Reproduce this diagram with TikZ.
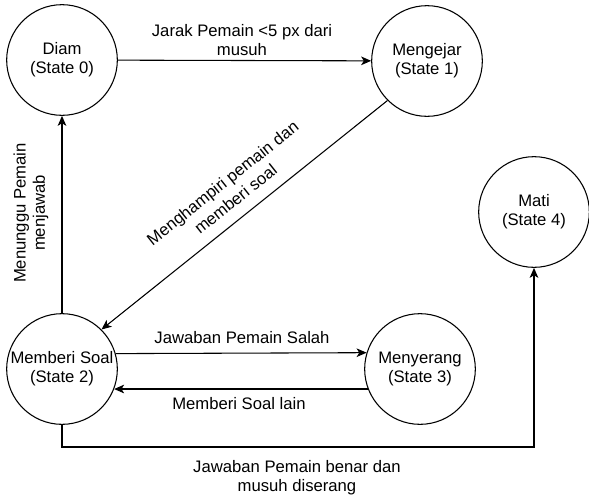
\documentclass[tikz,border=0pt]{standalone}
\usepackage{fontspec}
\setmainfont{Liberation Sans}
\usetikzlibrary{arrows.meta}
\begin{document}
\begin{tikzpicture}[x=0.75pt,y=-0.75pt,
  font=\fontsize{12.5pt}{14.5pt}\selectfont,
  state/.style={circle,draw,line width=0.8pt,minimum size=83pt,inner sep=0pt,align=center},
  conn/.style={draw,line width=0.8pt,-{Stealth[length=7.5pt,width=6.5pt,inset=2pt]}},
  lbl/.style={align=center,inner sep=0pt}]
\useasboundingbox (0,0) rectangle (589,497);
\node[state] (d0) at (62,60) {Diam\\(State 0)};
\node[state] (d1) at (427,61) {Mengejar\\(State 1)};
\node[state] (d2) at (62,369) {Memberi Soal\\(State 2)};
\node[state] (d3) at (420,369) {Menyerang\\(State 3)};
\node[state] (d4) at (534,212) {Mati\\(State 4)};
\coordinate (bl) at (62,447);
\coordinate (br) at (534,447);
\draw[conn] (d0) -- (d1);
\draw[conn] (d1.south west) -- (d2.north east);
\draw[conn] (d2.north) -- (d0.south);
\draw[conn] (d2.16.8) -- (d3.163.2);
\draw[conn] (d3.201.1) -- (d2.-21.1);
\draw[conn] (d2.south) -- (bl) -- (br) -- (d4.south);
\node[lbl] (l01) at (242,40) {Jarak Pemain <5 px dari\\musuh};
\node[lbl,rotate=38.5,font=\fontsize{12.5pt}{15.5pt}\selectfont] (l12) at (229,191) {Menghampiri pemain dan\\memberi soal};
\node[lbl,rotate=90] (l20) at (31,213) {Menunggu Pemain\\menjawab};
\node[lbl] (l23) at (242,338) {Jawaban Pemain Salah};
\node[lbl] (l32) at (239,404) {Memberi Soal lain};
\node[lbl] (l24) at (297,478) {Jawaban Pemain benar dan\\musuh diserang};
\end{tikzpicture}
\end{document}
